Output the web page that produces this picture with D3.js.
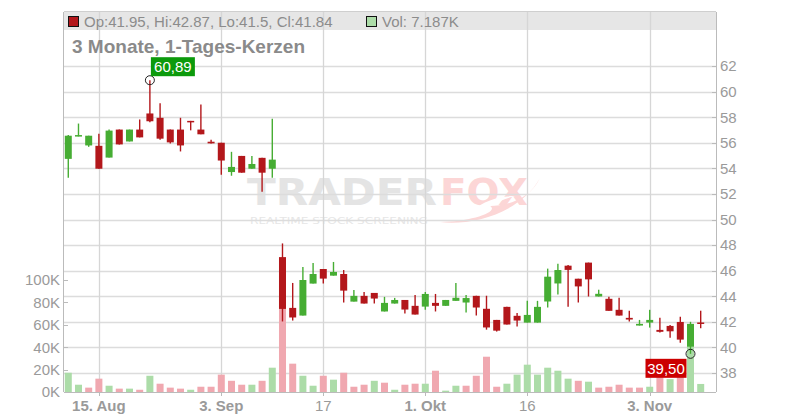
<!DOCTYPE html>
<html><head><meta charset="utf-8">
<script src="https://cdn.jsdelivr.net/npm/d3@7/dist/d3.min.js"></script>
<style>body{margin:0;background:#fff}svg{display:block;font-family:"Liberation Sans",Arial,sans-serif}</style>
</head><body><svg id="c" width="800" height="420"></svg>
<script>
const dates = ["2025-08-12","2025-08-13","2025-08-14","2025-08-15","2025-08-18","2025-08-19","2025-08-20","2025-08-21","2025-08-22","2025-08-25","2025-08-26","2025-08-27","2025-08-28","2025-08-29","2025-09-02","2025-09-03","2025-09-04","2025-09-05","2025-09-08","2025-09-09","2025-09-10","2025-09-11","2025-09-12","2025-09-15","2025-09-16","2025-09-17","2025-09-18","2025-09-19","2025-09-22","2025-09-23","2025-09-24","2025-09-25","2025-09-26","2025-09-29","2025-09-30","2025-10-01","2025-10-02","2025-10-03","2025-10-06","2025-10-07","2025-10-08","2025-10-09","2025-10-10","2025-10-14","2025-10-15","2025-10-16","2025-10-17","2025-10-20","2025-10-21","2025-10-22","2025-10-23","2025-10-24","2025-10-27","2025-10-28","2025-10-29","2025-10-30","2025-10-31","2025-11-03","2025-11-04","2025-11-05","2025-11-06","2025-11-07","2025-11-10"];
const open  = [54.74,56.50,55.79,55.76,54.84,57.03,56.10,57.03,58.29,57.95,57.03,57.03,57.71,57.03,56.08,56.00,53.71,54.97,53.97,54.82,53.97,47.06,43.09,42.49,44.99,46.13,45.61,45.74,43.58,44.03,44.26,42.81,43.43,43.71,43.25,43.19,43.48,43.25,43.64,43.51,44.03,43.02,42.15,43.17,42.47,41.94,41.94,43.59,45.00,46.39,45.37,46.63,43.98,43.80,42.94,42.31,41.71,41.94,41.37,41.68,41.99,40.06,41.95];
const high  = [56.60,57.50,56.55,56.71,57.03,57.03,57.03,57.82,60.89,59.08,57.03,57.95,57.71,59.00,56.24,56.00,55.29,54.97,54.97,54.82,57.87,48.13,45.04,46.29,46.60,46.13,46.68,46.05,44.49,44.34,44.26,43.95,43.87,43.71,44.10,44.34,44.18,43.71,45.04,44.10,44.03,44.04,42.15,43.17,42.70,43.64,43.64,46.16,46.55,46.45,45.37,46.63,44.51,43.96,43.88,42.86,42.15,42.94,42.31,41.76,42.39,42.00,42.87];
const low   = [53.26,56.50,55.68,53.97,54.84,55.87,56.10,56.42,57.60,56.24,55.95,55.32,56.97,56.66,55.95,53.50,53.42,53.66,53.97,52.16,53.26,42.03,42.10,42.49,44.99,44.99,45.61,43.51,43.58,43.43,43.43,42.81,43.43,42.65,42.57,42.94,42.81,43.25,43.64,42.73,42.49,41.39,41.24,41.79,41.63,41.94,41.94,43.12,44.14,43.17,43.51,43.98,43.98,42.86,42.49,42.02,41.71,41.55,41.16,40.76,40.37,39.50,41.50];
const close = [56.55,56.60,56.55,53.97,56.95,55.87,57.03,56.42,57.68,56.32,56.03,55.79,57.68,56.66,55.95,54.61,54.11,53.66,54.34,53.66,54.68,43.01,42.34,45.27,45.74,45.38,45.90,44.44,44.03,43.43,43.82,43.48,43.71,42.96,42.57,44.18,43.25,43.71,43.88,43.86,43.12,41.56,41.31,41.79,42.10,42.54,43.17,45.53,46.05,46.06,44.77,45.32,44.19,42.86,42.49,42.18,41.84,42.15,41.22,41.26,40.61,41.84,41.84];
const volume = [17200,6500,3900,11900,5600,3000,3000,2000,14500,7400,3900,3000,2000,4700,4700,15500,10000,6500,6500,10000,21700,85000,25300,14500,5600,14500,11000,17200,4700,6500,10000,8300,2000,6500,7400,7400,19000,1200,5600,5600,14500,31500,4700,7400,15500,24400,15500,21700,19000,11900,10000,9200,3900,4700,6500,3900,3900,4700,16000,11500,18000,41000,7187];
const priceTicks = [38,40,42,44,46,48,50,52,54,56,58,60,62];
const volTicks = [0,20000,40000,60000,80000,100000];
const volTickLabels = ["0K","20K","40K","60K","80K","100K"];
const dateTicks = ["2025-08-15","2025-09-03","2025-09-17","2025-10-01","2025-10-16","2025-11-03"];
const dateTickLabels = ["15. Aug","3. Sep","17","1. Okt","16","3. Nov"];
const dateTickBold = [true,true,false,true,false,true];
const title = "3 Monate, 1-Tages-Kerzen";
const legendOHLC = "Op:41.95, Hi:42.87, Lo:41.5, Cl:41.84";
const legendVol = "Vol: 7.187K";

const UP="#46ad33", DOWN="#b3171b", VUP="#acdca8", VDOWN="#f0a8b0";
const svg = d3.select("#c");
const L=64, R=716, B=392;
const x = d3.scaleLinear().domain([-0.42,63.5]).range([L,R]);
const y = d3.scaleLinear().domain([38,62]).range([373,66]);
const yv = d3.scaleLinear().domain([0,100000]).range([B,280]);
const idx = d => dates.indexOf(d);

// watermark
const wm = svg.append("g");
wm.append("text").attr("x",247).attr("y",205).attr("font-family","DejaVu Sans").attr("font-weight","bold")
  .attr("font-size",37).attr("fill","#e4e4e4").attr("textLength",190).attr("lengthAdjust","spacingAndGlyphs").text("TRADER");
wm.append("text").attr("x",440).attr("y",205).attr("font-family","DejaVu Sans").attr("font-weight","bold")
  .attr("font-size",37).attr("fill","#fcd6d6").attr("textLength",88).attr("lengthAdjust","spacingAndGlyphs").text("FOX");
wm.append("path").attr("d","M440,222 C470,226 520,214 540,178 C530,200 505,206 490,206 C500,212 470,222 440,222 Z").attr("fill","#fcd6d6");
wm.append("path").attr("d","M470,212 C485,200 500,196 515,196 C500,200 488,206 478,216 Z").attr("fill","#fff");
wm.append("text").attr("x",250).attr("y",224).attr("font-family","DejaVu Sans").attr("font-size",9)
  .attr("fill","#e6e6e6").attr("textLength",178).attr("lengthAdjust","spacingAndGlyphs").text("REALTIME STOCK SCREENING");

// header band
svg.append("rect").attr("x",L).attr("y",12).attr("width",R-L).attr("height",18).attr("fill","#e6e6e6");
svg.append("line").attr("x1",L).attr("x2",R).attr("y1",11.5).attr("y2",11.5).attr("stroke","#cfcfcf");

// grid
svg.append("g").selectAll("line").data(priceTicks).join("line")
  .attr("x1",L).attr("x2",R).attr("y1",d=>Math.round(y(d))+0.5).attr("y2",d=>Math.round(y(d))+0.5)
  .attr("stroke","#dcdcdc").attr("stroke-width",1.3);
svg.append("g").selectAll("line").data(dateTicks).join("line")
  .attr("x1",d=>Math.round(x(idx(d)))+0.5).attr("x2",d=>Math.round(x(idx(d)))+0.5).attr("y1",12).attr("y2",B)
  .attr("stroke","#d6d6d6").attr("stroke-width",1.3);

// volume
svg.append("g").selectAll("rect").data(volume).join("rect")
  .attr("x",(d,i)=>x(i)-3.5).attr("width",7).attr("y",d=>yv(d)).attr("height",d=>B-yv(d))
  .attr("fill",(d,i)=> (i===0 || close[i]>=close[i-1]) ? VUP : VDOWN);

// candles
const cg = svg.append("g");
dates.forEach((d,i)=>{
  const c = close[i]>=open[i] ? UP : DOWN;
  cg.append("line").attr("x1",x(i)).attr("x2",x(i)).attr("y1",y(high[i])).attr("y2",y(low[i])).attr("stroke",c).attr("stroke-width",1.4);
  const top = y(Math.max(open[i],close[i])), bot = y(Math.min(open[i],close[i]));
  cg.append("rect").attr("x",x(i)-3.5).attr("width",7).attr("y",top).attr("height",Math.max(1.5,bot-top)).attr("fill",c);
});

// axes
const ax = svg.append("g");
ax.append("line").attr("x1",R+0.5).attr("x2",R+0.5).attr("y1",12).attr("y2",B).attr("stroke","#bbb");
ax.append("line").attr("x1",L-0.5).attr("x2",L-0.5).attr("y1",12).attr("y2",B).attr("stroke","#bbb");
ax.append("line").attr("x1",L).attr("x2",R).attr("y1",B+0.5).attr("y2",B+0.5).attr("stroke","#bbb");
ax.selectAll(".pt").data(priceTicks).join("line").attr("x1",R-4).attr("x2",R).attr("y1",d=>Math.round(y(d))+0.5).attr("y2",d=>Math.round(y(d))+0.5).attr("stroke","#bbb");
ax.selectAll(".pl").data(priceTicks).join("text").attr("x",R+4).attr("y",d=>y(d)).attr("dy","0.36em")
  .attr("font-size",15).attr("fill","#9a9a9a").text(d=>d);
ax.selectAll(".vt").data(volTicks).join("line").attr("x1",L).attr("x2",L+4).attr("y1",d=>Math.round(yv(d))+0.5).attr("y2",d=>Math.round(yv(d))+0.5).attr("stroke","#bbb");
ax.selectAll(".vl").data(volTicks).join("text").attr("x",L-4).attr("y",d=>yv(d)).attr("dy","0.36em").attr("text-anchor","end")
  .attr("font-size",15).attr("fill","#9a9a9a").text((d,i)=>volTickLabels[i]);
ax.selectAll(".xt").data(dateTicks).join("line").attr("x1",d=>Math.round(x(idx(d)))+0.5).attr("x2",d=>Math.round(x(idx(d)))+0.5).attr("y1",B).attr("y2",B+4).attr("stroke","#bbb");
ax.selectAll(".xl").data(dateTicks).join("text").attr("x",d=>x(idx(d))).attr("y",411).attr("text-anchor","middle")
  .attr("font-size",15).attr("font-weight",(d,i)=>dateTickBold[i]?"bold":"normal").attr("fill","#9a9a9a").text((d,i)=>dateTickLabels[i]);

// legend
svg.append("rect").attr("x",68.5).attr("y",16.5).attr("width",10).attr("height",10).attr("fill",DOWN).attr("stroke","#111");
svg.append("text").attr("x",84).attr("y",26.5).attr("font-size",15).attr("fill","#8c8c8c").text(legendOHLC);
svg.append("rect").attr("x",366.5).attr("y",16.5).attr("width",10).attr("height",10).attr("fill",VUP).attr("stroke","#111");
svg.append("text").attr("x",382).attr("y",26.5).attr("font-size",15).attr("fill","#8c8c8c").text(legendVol);
svg.append("text").attr("x",72).attr("y",53).attr("font-size",19).attr("font-weight","bold").attr("fill","#8a8a8a").text(title);

// extremes
const hiI = d3.maxIndex(high), loI = d3.minIndex(low);
const fmt = v => v.toFixed(2).replace(".",",");
svg.append("circle").attr("cx",x(hiI)).attr("cy",y(high[hiI])).attr("r",4.5).attr("fill","none").attr("stroke","#222");
svg.append("rect").attr("x",x(hiI)+1).attr("y",y(high[hiI])-23).attr("width",44).attr("height",19).attr("fill","#0c9a0c");
svg.append("text").attr("x",x(hiI)+23).attr("y",y(high[hiI])-8.5).attr("text-anchor","middle").attr("font-size",15).attr("fill","#fff").text(fmt(high[hiI]));
svg.append("circle").attr("cx",x(loI)).attr("cy",y(low[loI])).attr("r",4.5).attr("fill","none").attr("stroke","#222");
svg.append("rect").attr("x",x(loI)-45).attr("y",y(low[loI])+5).attr("width",41).attr("height",19).attr("fill","#cc0000");
svg.append("text").attr("x",x(loI)-24.5).attr("y",y(low[loI])+20).attr("text-anchor","middle").attr("font-size",15).attr("fill","#fff").text(fmt(low[loI]));
</script></body></html>
